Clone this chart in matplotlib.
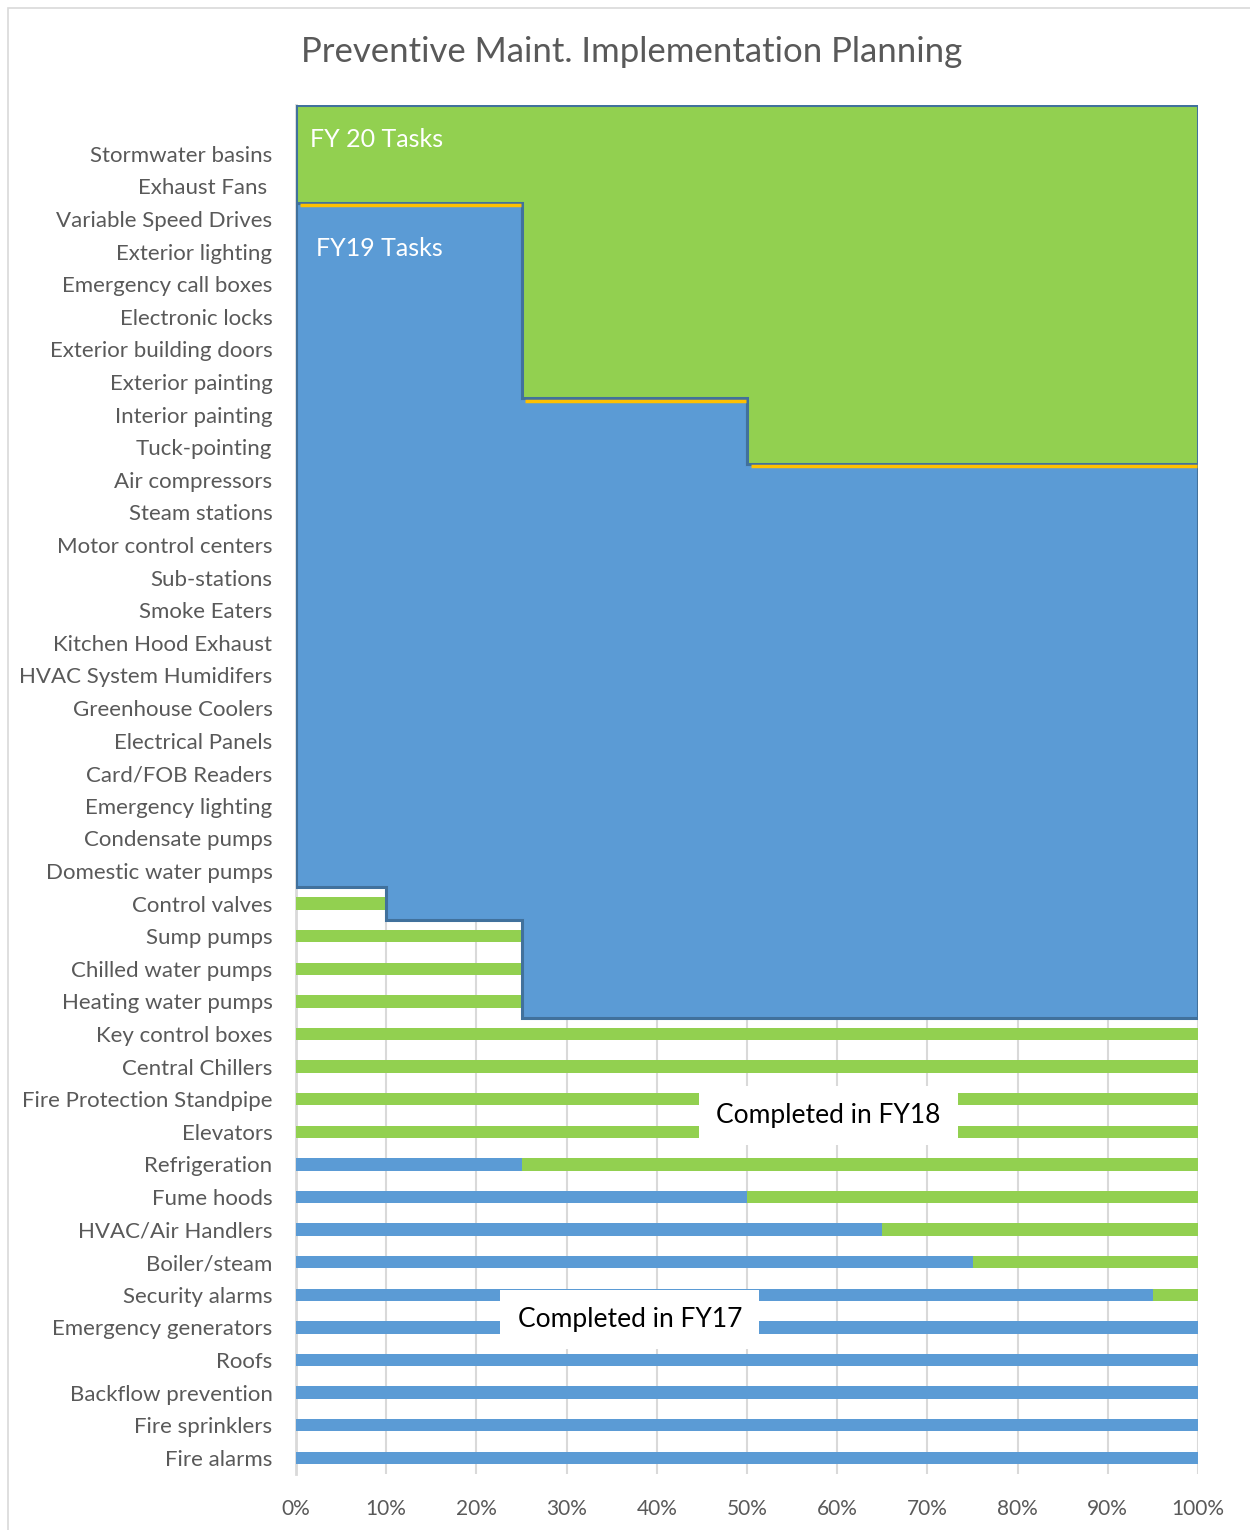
import numpy as np
import matplotlib
matplotlib.use("Agg")
from matplotlib import pyplot as plt
from matplotlib.patches import Polygon, Rectangle

plt.rcParams['font.family'] = ['Lato', 'DejaVu Sans']

# categories, bottom to top (top slot left blank like the original)
tasks = ["Fire alarms", "Fire sprinklers", "Backflow prevention", "Roofs",
         "Emergency generators", "Security alarms", "Boiler/steam",
         "HVAC/Air Handlers", "Fume hoods", "Refrigeration", "Elevators",
         "Fire Protection Standpipe", "Central Chillers", "Key control boxes",
         "Heating water pumps", "Chilled water pumps", "Sump pumps",
         "Control valves", "Domestic water pumps", "Condensate pumps",
         "Emergency lighting", "Card/FOB Readers", "Electrical Panels",
         "Greenhouse Coolers", "HVAC System Humidifers", "Kitchen Hood Exhaust",
         "Smoke Eaters", "Sub-stations", "Motor control centers",
         "Steam stations", "Air compressors", "Tuck-pointing",
         "Interior painting", "Exterior painting", "Exterior building doors",
         "Electronic locks", "Emergency call boxes", "Exterior lighting",
         "Variable Speed Drives", "Exhaust Fans ", "Stormwater basins", ""]

# percent completed in FY17 / FY18 (rows above Control valves are 0)
fy17 = [100, 100, 100, 100, 100, 95, 75, 65, 50, 25, 0, 0, 0, 0,
        0, 0, 0, 0] + [0] * 24
fy18 = [0, 0, 0, 0, 0, 5, 25, 35, 50, 75, 100, 100, 100, 100,
        25, 25, 25, 10] + [0] * 24

# planned blocks: (first task, last task, start %, end %)
fy19_plan = [("Heating water pumps", "Sump pumps", 25, 100),
             ("Control valves", "Control valves", 10, 100),
             ("Domestic water pumps", "Air compressors", 0, 100),
             ("Tuck-pointing", "Interior painting", 0, 50),
             ("Exterior painting", "Variable Speed Drives", 0, 25)]
fy20_plan = [("Tuck-pointing", "Interior painting", 50, 100),
             ("Exterior painting", "Variable Speed Drives", 25, 100),
             ("Exhaust Fans ", "", 0, 100)]

blue = '#5B9BD5'
green = '#92D050'
gold = '#FFC000'
edge = '#41719C'
gray = '#595959'


def outline(plan):
    # step outline: right side going up, left side coming back down
    right = []
    left = []
    for a, b, lo, hi in plan:
        y0, y1 = tasks.index(a) - 0.5, tasks.index(b) + 0.5
        right += [(hi, y0), (hi, y1)]
        left += [(lo, y0), (lo, y1)]
    return right + left[::-1]


fig = plt.figure(figsize=(12.5, 15.3), dpi=100)
ax = fig.add_axes([0.2368, 0.0366, 0.7216, 0.8948])

y = np.arange(len(tasks))
ax.barh(y, fy17, height=0.38, color=blue, zorder=2)
ax.barh(y, fy18, left=fy17, height=0.38, color=green, zorder=2)

ax.add_patch(Polygon(outline(fy19_plan), closed=True, fc=blue, ec=edge, lw=2.2, zorder=3))
ax.add_patch(Polygon(outline(fy20_plan), closed=True, fc=green, ec=edge, lw=2.2, zorder=3))

# thin gold strip where the FY19 work peeks out under each FY20 block
for a, b, lo, hi in fy20_plan:
    below = tasks.index(a) - 1
    for a2, b2, lo2, hi2 in fy19_plan:
        if tasks.index(a2) <= below <= tasks.index(b2):
            x0, x1 = max(lo, lo2), min(hi, hi2)
            yb = tasks.index(a) - 0.5 - 0.075
            ax.plot([x0 + 0.4, x1 - 0.1], [yb, yb], color=gold, lw=2.5, zorder=4,
                    solid_capstyle='butt')

ax.text(1.6, 40.45, "FY 20 Tasks", color='white', fontsize=18, va='center', zorder=5)
ax.text(2.2, 37.1, "FY19 Tasks", color='white', fontsize=18, va='center', zorder=5)
ax.text(59.0, 10.5, "Completed in FY18", color='black', fontsize=19, ha='center',
        va='center', zorder=5,
        bbox=dict(boxstyle='square,pad=0.65', fc='white', ec='none'))
ax.text(37.0, 4.25, "Completed in FY17", color='black', fontsize=19, ha='center',
        va='center', zorder=5,
        bbox=dict(boxstyle='square,pad=0.65', fc='white', ec='none'))

ax.set_xlim(0, 100)
ax.set_ylim(-0.5, 41.5)
ax.set_yticks(y)
ax.set_yticklabels(tasks, fontsize=16, color=gray)
ax.set_xticks(np.arange(0, 101, 10))
ax.set_xticklabels([f"{v}%" for v in range(0, 101, 10)], fontsize=15, color=gray)
ax.tick_params(axis='y', length=0, pad=17)
ax.tick_params(axis='x', length=0, pad=18)
ax.grid(axis='x', color='#D9D9D9', lw=1.5, zorder=0)
ax.set_axisbelow(True)
for s in ['top', 'right', 'bottom']:
    ax.spines[s].set_visible(False)
ax.spines['left'].set_color('#D9D9D9')
ax.spines['left'].set_linewidth(2)
ax.spines['left'].set_zorder(1)

fig.text(0.505, 0.966, "Preventive Maint. Implementation Planning", ha='center',
         va='center', fontsize=25, color=gray)
fig.patches.append(Rectangle((0.0064, -0.01), 1.1, 1.0048, transform=fig.transFigure,
                             fill=False, ec='#D9D9D9', lw=1.2))

plt.savefig("out.png", dpi=100)
